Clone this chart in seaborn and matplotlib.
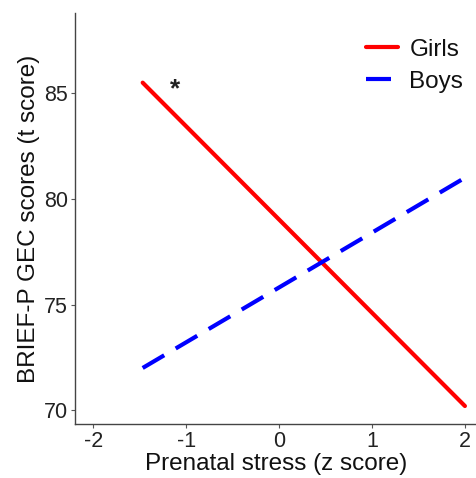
import pandas as pd
import matplotlib.pyplot as plt
import seaborn as sns

# values
stress = [-1.47, 2.0]
girls = [85.5, 70.2]
boys = [72.0, 81.0]

df = pd.DataFrame({
    'stress': stress * 2,
    'score': girls + boys,
    'sex': ['Girls'] * 2 + ['Boys'] * 2,
})

sns.set_style('white')
plt.rcParams['font.family'] = ['Liberation Sans', 'DejaVu Sans']

fig = plt.figure(figsize=(4.77, 4.78), dpi=100)
ax = fig.add_axes([0.157, 0.113, 0.843, 0.86])

sns.lineplot(data=df, x='stress', y='score', hue='sex', style='sex',
             palette={'Girls': '#ff0000', 'Boys': '#0000ff'},
             dashes={'Girls': '', 'Boys': (6.0, 3.2)},
             linewidth=3.0, ax=ax)

ax.text(-1.12, 85.2, '*', fontsize=19, fontweight='bold', ha='center',
        va='center', color='#222222')

ax.set_xlim(-2.2, 2.13)
ax.set_ylim(69.35, 88.8)
ax.set_xticks([-2, -1, 0, 1, 2])
ax.set_yticks([70, 75, 80, 85])
ax.set_xticklabels(['-2', '-1', '0', '1', '2'])
ax.tick_params(axis='both', labelsize=15.5, colors='#555555', length=3,
               width=0.8, pad=2, direction='out', bottom=True, left=True,
               labelcolor='#222222')
ax.set_xlabel('Prenatal stress (z score)', fontsize=17.5, labelpad=1,
              color='#111111')
ax.set_ylabel('BRIEF-P GEC scores (t score)', fontsize=17.5, labelpad=3,
              color='#111111')

for s in ['top', 'right']:
    ax.spines[s].set_visible(False)
for s in ['left', 'bottom']:
    ax.spines[s].set_color('#444444')
    ax.spines[s].set_linewidth(1.0)

leg = ax.legend(loc='upper right', frameon=False, fontsize=17.5, title=None,
                handlelength=1.35, handletextpad=0.45,
                bbox_to_anchor=(1.02, 0.99), labelspacing=0.4)
for line in leg.get_lines():
    line.set_linewidth(3.0)
for t in leg.get_texts():
    t.set_color('#111111')

fig.savefig('out.png', dpi=100)
